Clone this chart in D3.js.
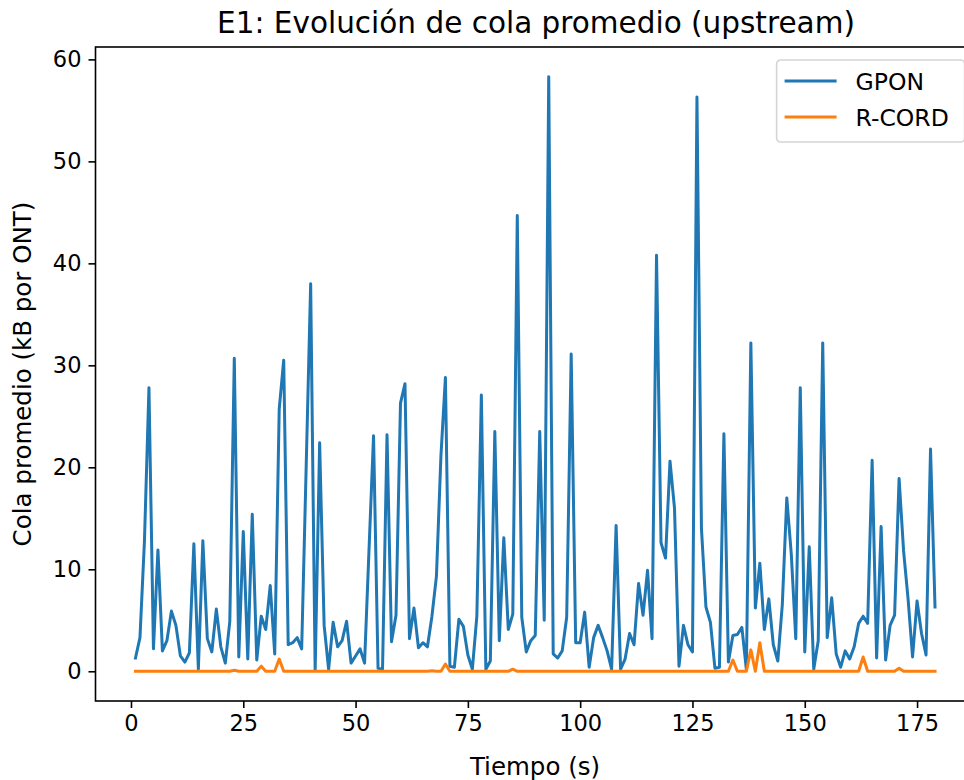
<!DOCTYPE html>
<html>
<head>
<meta charset="utf-8">
<script src="https://cdn.jsdelivr.net/npm/d3@7"></script>
<style>
  body { margin: 0; background: #fff; }
  svg text { font-family: "DejaVu Sans", sans-serif; fill: #000; }
</style>
</head>
<body>
<div id="chart"></div>
<script>
// cola promedio por segundo (kB por ONT)
const gpon = [
  1.3, 3.3, 12.8, 27.8, 2.2, 11.9, 2.0, 3.0, 5.9, 4.5,
  1.5, 0.9, 1.8, 12.5, 0.2, 12.8, 3.2, 1.9, 6.1, 2.4,
  0.8, 4.9, 30.7, 1.4, 13.7, 1.2, 15.4, 1.1, 5.4, 4.1,
  8.4, 1.7, 25.7, 30.5, 2.6, 2.8, 3.3, 2.2, 20.0, 38.0,
  0.1, 22.4, 4.5, 0.2, 4.8, 2.4, 3.0, 4.9, 0.8, 1.5,
  2.2, 0.8, 12.0, 23.1, 0.3, 0.2, 23.2, 2.9, 5.5, 26.3,
  28.2, 3.2, 6.2, 2.3, 2.8, 2.4, 5.4, 9.3, 21.1, 28.8,
  0.5, 0.4, 5.1, 4.4, 1.6, 0.2, 5.4, 27.1, 0.2, 1.0,
  23.5, 3.0, 13.1, 4.1, 5.6, 44.7, 5.3, 1.9, 3.0, 3.5,
  23.5, 5.0, 58.3, 1.7, 1.3, 2.0, 5.3, 31.1, 2.8, 2.8,
  5.8, 0.4, 3.3, 4.5, 3.3, 2.0, 0.2, 14.3, 0.2, 1.2,
  3.7, 2.6, 8.6, 5.5, 9.9, 3.2, 40.8, 12.6, 11.1, 20.6,
  16.0, 0.5, 4.5, 2.6, 1.9, 56.3, 14.0, 6.3, 4.8, 0.3,
  0.4, 23.3, 0.9, 3.5, 3.6, 4.3, 0.2, 32.2, 6.2, 10.6,
  4.1, 7.1, 2.6, 1.0, 6.5, 17.0, 11.5, 3.2, 27.8, 1.9,
  12.2, 0.2, 3.0, 32.2, 3.3, 7.2, 1.7, 0.4, 2.0, 1.2,
  2.4, 4.7, 5.4, 4.7, 20.7, 1.3, 14.2, 1.1, 4.5, 5.5,
  18.9, 11.8, 7.1, 1.4, 6.9, 3.7, 1.6, 21.8, 6.3
];

const rcord = [
  0, 0, 0, 0, 0, 0, 0, 0, 0, 0,
  0, 0, 0, 0, 0, 0, 0, 0, 0, 0,
  0, 0, 0.1, 0, 0, 0, 0, 0, 0.5, 0,
  0, 0, 1.2, 0, 0, 0, 0, 0, 0, 0,
  0, 0, 0, 0, 0, 0, 0, 0, 0, 0,
  0, 0, 0, 0, 0, 0, 0, 0, 0, 0,
  0, 0, 0, 0, 0, 0, 0.05, 0, 0, 0.7,
  0, 0, 0, 0, 0, 0, 0, 0, 0, 0,
  0, 0, 0, 0, 0.2, 0, 0, 0, 0, 0,
  0, 0, 0, 0, 0, 0, 0, 0, 0, 0,
  0, 0, 0, 0, 0, 0, 0, 0, 0, 0,
  0, 0, 0, 0, 0, 0, 0, 0, 0, 0,
  0, 0, 0, 0, 0, 0, 0, 0, 0, 0,
  0, 0, 0, 1.1, 0, 0, 0, 2.1, 0, 2.8,
  0, 0, 0, 0, 0, 0, 0, 0, 0, 0,
  0, 0, 0, 0, 0, 0, 0, 0, 0, 0,
  0, 0, 1.4, 0, 0, 0, 0, 0, 0, 0,
  0.3, 0, 0, 0, 0, 0, 0, 0, 0
];

// segundos 1..N
const tiempo = d3.range(1, gpon.length + 1);

const xTicks = [0, 25, 50, 75, 100, 125, 150, 175];
const yTicks = [0, 10, 20, 30, 40, 50, 60];

const seriesNames = ["GPON", "R-CORD"];
const seriesColors = ["#1f77b4", "#ff7f0e"];

// dimensions: the right spine falls just outside the picture
const margin = {top: 47, left: 95.5},
    width = 879.5,
    height = 654;

const svg = d3.select("#chart")
  .append("svg")
  .attr("width", 964)
  .attr("height", 780)
  .style("display", "block");

const g = svg.append("g")
  .attr("transform", `translate(${margin.left},${margin.top})`);

// scales with matplotlib-like 5% padding
const xPad = (d3.max(tiempo) - d3.min(tiempo)) * 0.05;
const x = d3.scaleLinear()
  .domain([d3.min(tiempo) - xPad, d3.max(tiempo) + xPad])
  .range([0, width]);

const yMax = d3.max(gpon), yMin = 0;
const yPad = (yMax - yMin) * 0.05;
const y = d3.scaleLinear()
  .domain([yMin - yPad, yMax + yPad])
  .range([height, 0]);

// lines
const line = d3.line()
  .x((d, i) => x(tiempo[i]))
  .y(d => y(d));

[gpon, rcord].forEach((s, k) => {
  g.append("path")
    .datum(s)
    .attr("fill", "none")
    .attr("stroke", seriesColors[k])
    .attr("stroke-width", 3)
    .attr("stroke-linejoin", "round")
    .attr("stroke-linecap", "square")
    .attr("d", line);
});

// X axis
const xAxis = g.append("g")
  .attr("transform", `translate(0,${height})`)
  .call(d3.axisBottom(x).tickValues(xTicks).tickSize(7).tickPadding(7).tickSizeOuter(0));
xAxis.selectAll("text").style("font-size", "22.5px");

// Y axis
const yAxis = g.append("g")
  .call(d3.axisLeft(y).tickValues(yTicks).tickSize(7).tickPadding(7).tickSizeOuter(0));
yAxis.selectAll("text").style("font-size", "22.5px");

[xAxis, yAxis].forEach(a => {
  a.select(".domain").remove();
  a.selectAll(".tick line").attr("stroke", "#000").attr("stroke-width", 1.6);
});

// spines
g.append("rect")
  .attr("width", width)
  .attr("height", height)
  .attr("fill", "none")
  .attr("stroke", "#000")
  .attr("stroke-width", 1.6);

// title + labels
svg.append("text")
  .attr("x", 536)
  .attr("y", 33)
  .attr("text-anchor", "middle")
  .style("font-size", "29.5px")
  .text("E1: Evolución de cola promedio (upstream)");

svg.append("text")
  .attr("x", 535)
  .attr("y", 775)
  .attr("text-anchor", "middle")
  .style("font-size", "24.5px")
  .text("Tiempo (s)");

svg.append("text")
  .attr("transform", "translate(31,374) rotate(-90)")
  .attr("text-anchor", "middle")
  .style("font-size", "24.5px")
  .text("Cola promedio (kB por ONT)");

// legend
const legend = g.append("g")
  .attr("transform", `translate(${width - 10.4 - 188},${13})`);

legend.append("rect")
  .attr("width", 188)
  .attr("height", 82)
  .attr("rx", 4)
  .attr("fill", "#fff")
  .attr("fill-opacity", 0.8)
  .attr("stroke", "#d5d5d5")
  .attr("stroke-width", 1.6);

seriesNames.forEach((name, i) => {
  const yy = 21 + i * 36;
  legend.append("line")
    .attr("x1", 8).attr("x2", 60)
    .attr("y1", yy).attr("y2", yy)
    .attr("stroke", seriesColors[i])
    .attr("stroke-width", 3);
  legend.append("text")
    .attr("x", 79)
    .attr("y", yy + 8.5)
    .style("font-size", "23.5px")
    .text(name);
});
</script>
</body>
</html>
